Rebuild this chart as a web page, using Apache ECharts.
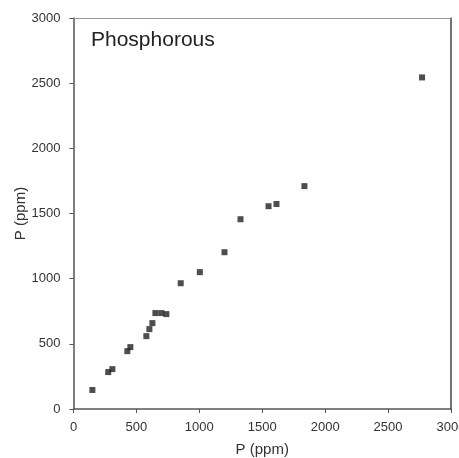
<!DOCTYPE html>
<html><head><meta charset="utf-8">
<script src="https://cdn.jsdelivr.net/npm/echarts@6/dist/echarts.min.js"></script>
<style>html,body{margin:0;padding:0;background:#fff}#c{width:459px;height:458px}</style>
</head><body><div id="c"></div>
<script>
var xValues = [150, 276, 309, 428, 452, 579, 603, 627, 651, 698, 738, 852, 1004, 1200, 1327, 1550, 1613, 1835, 2770];
var yValues = [146, 283, 306, 444, 475, 559, 613, 659, 736, 736, 728, 965, 1050, 1203, 1456, 1556, 1573, 1710, 2544];
var xTicks = [0, 500, 1000, 1500, 2000, 2500, 3000];
var yTicks = [0, 500, 1000, 1500, 2000, 2500, 3000];
var titleText = 'Phosphorous';
var axisName = 'P (ppm)';

var pts = xValues.map(function(x, i){ return [x, yValues[i]]; });
var chart = echarts.init(document.getElementById('c'));
var FF = 'Liberation Sans, Arial, sans-serif';
var lbl = {color:'#333', fontSize:13, fontFamily:FF, formatter:function(v){return String(v);}};
chart.setOption({
  animation:false,
  title:{text:titleText, left:86, top:25, textStyle:{fontSize:21, fontWeight:'normal', color:'#222', fontFamily:FF}},
  grid:{left:73.5, right:8, top:18, bottom:49, outerBoundsMode:'none', containLabel:false},
  xAxis:[{type:'value', min:0, max:3000, interval:500,
    axisLine:{show:true, onZero:false, lineStyle:{color:'#555', width:1.5}},
    axisTick:{show:true, length:4, lineStyle:{color:'#555'}},
    splitLine:{show:false},
    axisLabel:Object.assign({margin:12}, lbl),
    name:axisName, nameLocation:'middle', nameGap:33, nameMoveOverlap:false,
    nameTextStyle:{fontSize:15, color:'#333', fontFamily:FF}},
    {type:'value', position:'top', min:0, max:3000, interval:500, axisLine:{show:true, onZero:false, lineStyle:{color:'#999', width:1}}, axisTick:{show:false}, axisLabel:{show:false}, splitLine:{show:false}}],
  yAxis:[{type:'value', min:0, max:3000, interval:500,
    axisLine:{show:true, onZero:false, lineStyle:{color:'#555', width:1.5}},
    axisTick:{show:true, length:4, lineStyle:{color:'#555'}},
    splitLine:{show:false},
    axisLabel:Object.assign({margin:13}, lbl),
    name:axisName, nameLocation:'middle', nameGap:45, nameRotate:90, nameMoveOverlap:false,
    nameTextStyle:{fontSize:15, color:'#333', fontFamily:FF}},
    {type:'value', position:'right', min:0, max:3000, interval:500, axisLine:{show:true, onZero:false, lineStyle:{color:'#444', width:1.5}}, axisTick:{show:false}, axisLabel:{show:false}, splitLine:{show:false}}],
  series:[{type:'scatter', data:pts, symbol:'rect', symbolSize:6, itemStyle:{color:'#222'}}]
});
</script></body></html>
